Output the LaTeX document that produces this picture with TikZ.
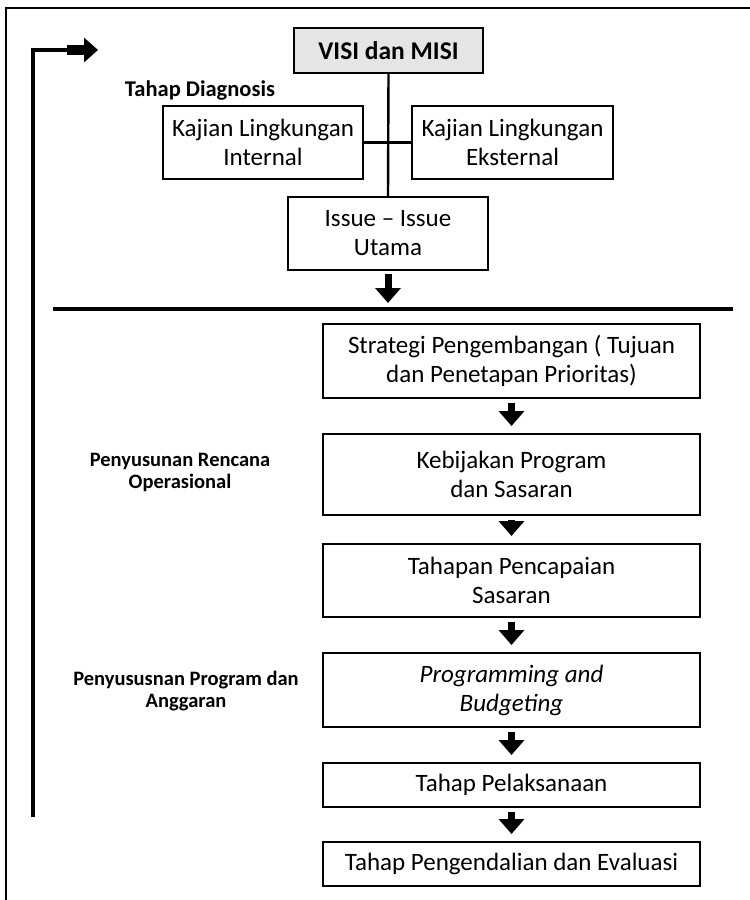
\documentclass[tikz,border=0pt]{standalone}
\usepackage{fontspec}
\setmainfont{Carlito}
\usetikzlibrary{arrows.meta}

\tikzset{
  box/.style={draw=black, line width=2pt, fill=white, align=center,
    inner sep=0pt, font=\fontsize{25}{29}\selectfont},
  headbox/.style={box, fill=black!10, font=\fontsize{25.5}{29}\selectfont\bfseries},
  stagelabel/.style={align=center, inner sep=0pt, font=\fontsize{20.5}{22}\selectfont\bfseries},
  link/.style={line width=2.4pt},
  blockarrow/.style={line width=7pt, -{Triangle[width=25pt,length=15pt]}},
  feedline/.style={line width=4pt, line join=miter},
  rule/.style={line width=4pt},
  frame/.style={line width=2pt}
}

\begin{document}
\begin{tikzpicture}[x=1pt, y=-1pt]
  \useasboundingbox (0,0) rectangle (750,900);

  % outer frame (top and left sides)
  \draw[frame] (6,900) -- (6,8) -- (750,8);

  % diagnosis stage
  \node[headbox, minimum width=189pt, minimum height=45pt] (visi) at (388.5,50.5) {VISI dan MISI};
  \node[stagelabel, font=\fontsize{22.5}{24}\selectfont\bfseries] (diag) at (200,91) {Tahap Diagnosis};
  \node[box, minimum width=200pt, minimum height=73pt] (kint) at (263,142.5) {Kajian Lingkungan\\Internal};
  \node[box, minimum width=201pt, minimum height=73pt] (kext) at (512.5,142.5) {Kajian Lingkungan\\Eksternal};
  \node[box, minimum width=200pt, minimum height=73pt] (issue) at (388,233.5) {Issue -- Issue\\Utama};

  \draw[link] (visi.south) -- (issue.north);
  \draw[link] (kint.east) -- (kext.west);

  % separator between diagnosis and planning
  \coordinate (sepL) at (53,309);
  \coordinate (sepR) at (733,309);
  \draw[rule] (sepL) -- (sepR);
  \draw[blockarrow, shorten <=3pt, shorten >=6pt] (issue.south) -- (issue.south |- sepL);

  % planning chain
  \node[box, minimum width=377pt, minimum height=74pt] (strat) at (511.5,361) {Strategi Pengembangan ( Tujuan\\dan Penetapan Prioritas)};
  \node[box, minimum width=377pt, minimum height=81pt] (kebij) at (511.5,474.5) {Kebijakan Program\\dan Sasaran};
  \node[box, minimum width=377pt, minimum height=73pt] (tahapan) at (511.5,580.5) {Tahapan Pencapaian\\Sasaran};
  \node[box, minimum width=377pt, minimum height=74pt] (prog) at (511.5,690) {\itshape Programming and\\\itshape Budgeting};
  \node[box, minimum width=377pt, minimum height=44pt] (pelak) at (511.5,785) {Tahap Pelaksanaan};
  \node[box, minimum width=377pt, minimum height=44pt] (pengen) at (511.5,864) {Tahap Pengendalian dan Evaluasi};

  \foreach \a/\b in {strat/kebij, kebij/tahapan, tahapan/prog, prog/pelak, pelak/pengen}
    \draw[blockarrow, shorten <=4pt, shorten >=7pt] (\a.south) -- (\b.north);

  % stage labels
  \node[stagelabel] (oper) at (180,472) {Penyusunan Rencana\\Operasional};
  \node[stagelabel] (angg) at (186,691) {Penyususnan Program dan\\Anggaran};

  % feedback loop
  \coordinate (fbBot) at (33,817);
  \coordinate (fbTop) at (33,50);
  \coordinate (fbMid) at (67,50);
  \coordinate (fbTip) at (98,50);
  \draw[feedline] (fbBot) -- (fbTop) -- (fbMid);
  \draw[line width=10pt, -{Triangle[width=24pt,length=14pt]}] (fbMid) -- (fbTip);
\end{tikzpicture}
\end{document}
